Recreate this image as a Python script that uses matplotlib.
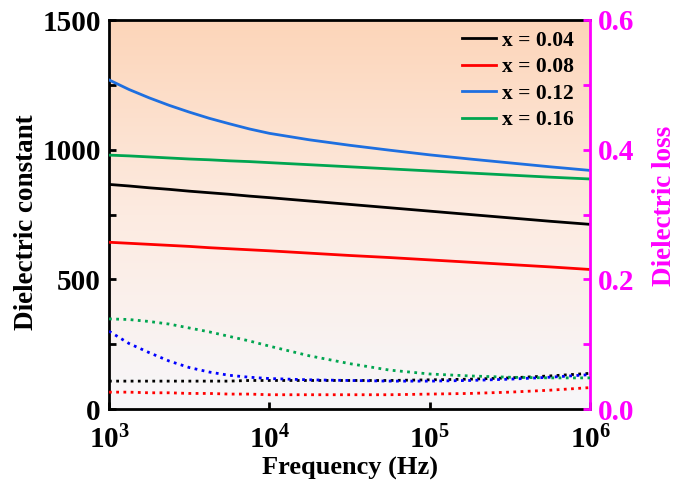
import matplotlib
matplotlib.use("Agg")
import matplotlib.pyplot as plt
import numpy as np
from matplotlib.colors import LinearSegmentedColormap

plt.rcParams["font.family"] = ["Liberation Serif", "DejaVu Serif"]
plt.rcParams["font.weight"] = "bold"
plt.rcParams["mathtext.fontset"] = "custom"
plt.rcParams["mathtext.rm"] = "Liberation Serif:bold"
plt.rcParams["mathtext.bf"] = "Liberation Serif:bold"

# ---------------------------------------------------------------------------
# Data, log10 frequency grid
# ---------------------------------------------------------------------------
log_f = [3.0, 3.125, 3.25, 3.375, 3.5, 3.625, 3.75, 3.875, 4.0, 4.25, 4.5,
         4.75, 5.0, 5.25, 5.5, 5.75, 6.0]
freq = [10 ** v for v in log_f]

labels = ["x = 0.04", "x = 0.08", "x = 0.12", "x = 0.16"]
solid_colors = ["#000000", "#FF0000", "#1E6FE0", "#00A550"]
dot_colors = ["#000000", "#FF0000", "#0000FF", "#00A550"]

# dielectric constant (left axis)
eps_004 = [866, 860, 853, 847, 840, 834, 828, 821, 815, 802, 789, 776, 763,
           750, 737, 724, 712]
eps_008 = [643, 639, 635, 631, 627, 622, 618, 614, 610, 601, 592, 584, 575,
           566, 557, 548, 538]
eps_012 = [1269, 1232, 1200, 1171, 1145, 1121, 1100, 1080, 1063, 1038, 1017,
           998, 980, 964, 949, 934, 920]
eps_016 = [979, 976, 972, 968, 964, 961, 957, 954, 950, 942, 934, 926, 918,
           910, 902, 894, 887]

# dielectric loss (right axis)
loss_004 = [0.043, 0.043, 0.043, 0.043, 0.043, 0.043, 0.043, 0.044, 0.044,
            0.044, 0.044, 0.044, 0.045, 0.046, 0.048, 0.051, 0.055]
loss_008 = [0.026, 0.026, 0.025, 0.025, 0.024, 0.024, 0.023, 0.023, 0.022,
            0.022, 0.022, 0.022, 0.023, 0.024, 0.026, 0.029, 0.033]
loss_012 = [0.120, 0.101, 0.087, 0.074, 0.064, 0.057, 0.052, 0.049, 0.047,
            0.045, 0.044, 0.043, 0.043, 0.044, 0.046, 0.049, 0.053]
loss_016 = [0.139, 0.138, 0.135, 0.131, 0.125, 0.119, 0.112, 0.105, 0.097,
            0.082, 0.070, 0.060, 0.054, 0.051, 0.049, 0.048, 0.048]

eps_series = [eps_004, eps_008, eps_012, eps_016]
loss_series = [loss_004, loss_008, loss_012, loss_016]

# ---------------------------------------------------------------------------
fig = plt.figure(figsize=(6.76, 4.82), dpi=100)
ax = fig.add_axes([109 / 676, 1 - 409 / 482, (590 - 109) / 676, (409 - 20) / 482])
ax2 = ax.twinx()

# gradient background (peach at top, almost white at bottom)
cmap = LinearSegmentedColormap.from_list(
    "bg", ["#F7F7FA", "#FDEBE1", "#FCD5B9"])
grad = np.linspace(0, 1, 256).reshape(-1, 1)
ax.imshow(grad, extent=[0, 1, 0, 1], transform=ax.transAxes, origin="lower",
          aspect="auto", cmap=cmap, zorder=0)

for y, c, lab in zip(eps_series, solid_colors, labels):
    ax.plot(freq, y, color=c, linewidth=2.0, label=lab, zorder=3)

for y, c in zip(loss_series, dot_colors):
    ax2.plot(freq, y, color=c, linewidth=2.0, linestyle=(0, (1, 1.6)), zorder=3)

ax.set_xscale("log")
ax.set_xlim(1e3, 1e6)
ax.set_ylim(0, 1500)
ax.set_yticks([0, 500, 1000, 1500])
ax.set_yticks([250, 750, 1250], minor=True)
ax.xaxis.set_minor_locator(matplotlib.ticker.NullLocator())
ax2.set_ylim(0, 0.6)
ax2.set_yticks([0.0, 0.2, 0.4, 0.6])
ax2.set_yticks([0.1, 0.3, 0.5], minor=True)
ax2.yaxis.set_major_formatter(matplotlib.ticker.FormatStrFormatter("%.1f"))

ax.tick_params(axis="both", which="both", direction="in", width=2, length=5,
               labelsize=21)
ax.tick_params(axis="x", pad=12)
ax.tick_params(axis="y", pad=6)
ax2.tick_params(axis="y", which="both", direction="in", width=2, length=5,
                labelsize=21, colors="#FF00FF", pad=6)

for s in ("left", "bottom", "top"):
    ax.spines[s].set_linewidth(2)
ax.spines["right"].set_visible(False)
for s in ("left", "bottom", "top"):
    ax2.spines[s].set_visible(False)
ax2.spines["right"].set_linewidth(2)
ax2.spines["right"].set_color("#FF00FF")

ax.set_xlabel("Frequency (Hz)", fontsize=19, fontweight="bold", labelpad=2)
ax.set_ylabel("Dielectric constant", fontsize=19.5, fontweight="bold", labelpad=2.5)
ax.yaxis.label.set_y(0.48)
ax2.set_ylabel("Dielectric loss", fontsize=19.5, fontweight="bold",
               color="#FF00FF", labelpad=12.5)
ax2.yaxis.label.set_y(0.522)

ax.legend(loc="upper right", frameon=False, fontsize=15.5, handlelength=1.6,
          handletextpad=0.3, labelspacing=0.3, borderaxespad=0.1,
          bbox_to_anchor=(0.99, 1.0))

fig.savefig("out.png", dpi=100)
